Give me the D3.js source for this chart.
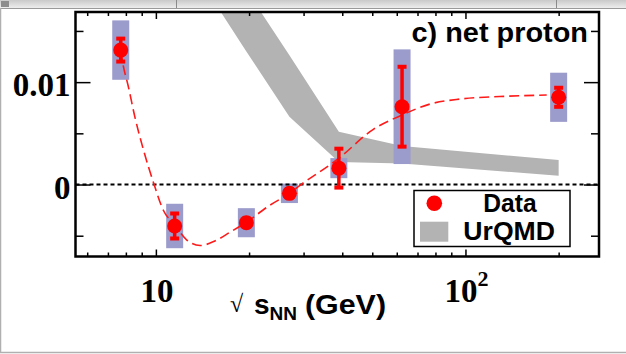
<!DOCTYPE html>
<html>
<head>
<meta charset="utf-8">
<script src="https://cdn.jsdelivr.net/npm/d3@7/dist/d3.min.js"></script>
<style>
  html, body { margin: 0; padding: 0; background: #fff; }
  svg { display: block; }
</style>
</head>
<body>
<svg id="chart" width="626" height="354"></svg>
<script>
// Collision energies (GeV) of the measured points
const energies = [7.7, 11.5, 19.6, 27, 39, 62.4, 200];
// Net-proton observable and its uncertainties
const netProton = [0.01313, -0.00405, -0.00373, -0.00086, 0.0016, 0.0076, 0.00852];
const statErr   = [0.00112, 0.00122, 0.0004, 0.0004, 0.0019, 0.0039, 0.00093];
const sysErr    = [0.0029, 0.00217, 0.00142, 0.00095, 0.00098, 0.0056, 0.0024];

// UrQMD band (lower / upper edge) at the same energies
const urqmdLow  = [0.032, 0.0238, 0.0130, 0.00662, 0.0022, 0.00205, 0.00086];
const urqmdHigh = [0.040, 0.0298, 0.0190, 0.01262, 0.00516, 0.00376, 0.00239];

// Dashed guide curve through the data
const fitEnergy = [7.7, 7.82, 8.14, 8.57, 9.12, 9.87, 10.56, 11.46, 12.59, 13.9, 15.5, 17.4,
                   19.5, 23.4, 27.0, 29.3, 39.1, 50, 62.4, 76.8, 96.3, 129, 183];
const fitValue  = [0.0131, 0.01184, 0.00962, 0.00649, 0.00337, 0, -0.00249, -0.0039, -0.00542,
                   -0.00596, -0.00552, -0.00464, -0.00373, -0.0020, -0.00086, -0.00005, 0.00259,
                   0.00532, 0.00679, 0.00786, 0.00835, 0.00859, 0.00874];

// Axis ticks
const xMajorTicks = [10, 100];
const xMinorTicks = [6, 7, 8, 9, 20, 30, 40, 50, 60, 70, 80, 90, 200];
const yMajorTicks = [0, 0.01];
const yMinorTicks = [-0.005, 0.005, 0.015];

const svg = d3.select("#chart");
const W = 626, H = 354;
const plot = { left: 75.5, right: 599, top: 12, bottom: 256.5 };

const x = d3.scaleLog().domain([5.5, 270]).range([plot.left, plot.right]);
const y = d3.scaleLinear().domain([-0.00703, 0.01685]).range([plot.bottom, plot.top]);

// ---- window chrome around the figure ----
const defs = svg.append("defs");
const grad = defs.append("linearGradient").attr("id", "barGrad")
  .attr("x1", 0).attr("y1", 0).attr("x2", 0).attr("y2", 1);
grad.append("stop").attr("offset", "0%").attr("stop-color", "#c9c9c9");
grad.append("stop").attr("offset", "100%").attr("stop-color", "#ededed");
svg.append("rect").attr("x", 0).attr("y", 0).attr("width", W).attr("height", 8)
  .attr("fill", "url(#barGrad)");
svg.append("line").attr("x1", 0).attr("x2", W).attr("y1", 8.5).attr("y2", 8.5)
  .attr("stroke", "#9a9a9a").attr("stroke-width", 1);
[176.5, 556.5].forEach(px => {
  svg.append("line").attr("x1", px).attr("x2", px).attr("y1", 0).attr("y2", 8)
    .attr("stroke", "#8a8a8a").attr("stroke-width", 1);
});
svg.append("rect").attr("x", 1).attr("y", 1).attr("width", 8).attr("height", 6)
  .attr("fill", "#8c8c8c");
svg.append("line").attr("x1", 0.5).attr("x2", 0.5).attr("y1", 8).attr("y2", 352)
  .attr("stroke", "#b0b0b0").attr("stroke-width", 1.5);
svg.append("line").attr("x1", 0).attr("x2", W).attr("y1", 352.5).attr("y2", 352.5)
  .attr("stroke", "#b0b0b0").attr("stroke-width", 1.5);

// ---- plot contents, clipped to the frame ----
defs.append("clipPath").attr("id", "plotClip").append("rect")
  .attr("x", plot.left).attr("y", plot.top)
  .attr("width", plot.right - plot.left).attr("height", plot.bottom - plot.top);
const g = svg.append("g").attr("clip-path", "url(#plotClip)");

// UrQMD band
const bandData = energies.map((e, i) => ({ e, lo: urqmdLow[i], hi: urqmdHigh[i] }));
g.append("path").datum(bandData)
  .attr("fill", "#b3b3b3")
  .attr("d", d3.area().x(d => x(d.e)).y0(d => y(d.lo)).y1(d => y(d.hi)));

const pts = energies.map((e, i) => ({ e, v: netProton[i], st: statErr[i], sy: sysErr[i] }));

// systematic boxes
const boxW = 17;
g.selectAll("rect.sys").data(pts).join("rect").attr("class", "sys")
  .attr("x", d => x(d.e) - boxW / 2)
  .attr("width", boxW)
  .attr("y", d => y(d.v + d.sy))
  .attr("height", d => y(d.v - d.sy) - y(d.v + d.sy))
  .attr("fill", "#9b9bcc");

// zero reference line
g.append("line")
  .attr("x1", plot.left).attr("x2", plot.right)
  .attr("y1", y(0)).attr("y2", y(0))
  .attr("stroke", "#000").attr("stroke-width", 2).attr("stroke-dasharray", "4,3");

// dashed guide curve
const fitData = fitEnergy.map((e, i) => ({ e, v: fitValue[i] }));
g.append("path").datum(fitData)
  .attr("fill", "none").attr("stroke", "#ff1a1a").attr("stroke-width", 1.6)
  .attr("stroke-dasharray", "10,5")
  .attr("d", d3.line().x(d => x(d.e)).y(d => y(d.v)).curve(d3.curveMonotoneX));

// statistical error bars with caps
g.selectAll("line.stat").data(pts).join("line").attr("class", "stat")
  .attr("x1", d => x(d.e)).attr("x2", d => x(d.e))
  .attr("y1", d => y(d.v + d.st)).attr("y2", d => y(d.v - d.st))
  .attr("stroke", "#ff0000").attr("stroke-width", 3.5);
const capW = 9, capH = 4;
["hi", "lo"].forEach(side => {
  g.selectAll("rect.cap-" + side).data(pts).join("rect").attr("class", "cap-" + side)
    .attr("x", d => x(d.e) - capW / 2)
    .attr("y", d => y(side === "hi" ? d.v + d.st : d.v - d.st) - capH / 2)
    .attr("width", capW).attr("height", capH)
    .attr("fill", "#ff0000");
});

// markers
g.selectAll("circle.pt").data(pts).join("circle").attr("class", "pt")
  .attr("cx", d => x(d.e)).attr("cy", d => y(d.v)).attr("r", 7.5)
  .attr("fill", "#ff0000");

// ---- axes (ticks point inward on all four sides) ----
function styleAxis(sel) {
  sel.select(".domain").remove();
  sel.selectAll(".tick line").attr("stroke", "#000").attr("stroke-width", 1.5);
  sel.selectAll(".tick text").remove();
}
svg.append("g").attr("transform", `translate(0,${plot.bottom})`)
  .call(d3.axisBottom(x).tickValues(xMajorTicks).tickSizeInner(-7).tickSizeOuter(0)).call(styleAxis);
svg.append("g").attr("transform", `translate(0,${plot.bottom})`)
  .call(d3.axisBottom(x).tickValues(xMinorTicks).tickSizeInner(-4).tickSizeOuter(0)).call(styleAxis);
svg.append("g").attr("transform", `translate(0,${plot.top})`)
  .call(d3.axisTop(x).tickValues(xMajorTicks).tickSizeInner(-7).tickSizeOuter(0)).call(styleAxis);
svg.append("g").attr("transform", `translate(0,${plot.top})`)
  .call(d3.axisTop(x).tickValues(xMinorTicks).tickSizeInner(-4).tickSizeOuter(0)).call(styleAxis);
svg.append("g").attr("transform", `translate(${plot.left},0)`)
  .call(d3.axisLeft(y).tickValues(yMajorTicks).tickSizeInner(-15).tickSizeOuter(0)).call(styleAxis);
svg.append("g").attr("transform", `translate(${plot.left},0)`)
  .call(d3.axisLeft(y).tickValues(yMinorTicks).tickSizeInner(-8).tickSizeOuter(0)).call(styleAxis);
svg.append("g").attr("transform", `translate(${plot.right},0)`)
  .call(d3.axisRight(y).tickValues(yMajorTicks).tickSizeInner(-15).tickSizeOuter(0)).call(styleAxis);
svg.append("g").attr("transform", `translate(${plot.right},0)`)
  .call(d3.axisRight(y).tickValues(yMinorTicks).tickSizeInner(-8).tickSizeOuter(0)).call(styleAxis);

// frame
svg.append("rect")
  .attr("x", plot.left).attr("y", plot.top)
  .attr("width", plot.right - plot.left).attr("height", plot.bottom - plot.top)
  .attr("fill", "none").attr("stroke", "#000").attr("stroke-width", 2.5);

// ---- tick labels ----
const serif = "'Liberation Serif', 'Times New Roman', serif";
const sans = "'Liberation Sans', Arial, Helvetica, sans-serif";

svg.selectAll("text.ylab").data(yMajorTicks).join("text").attr("class", "ylab")
  .attr("x", 70.5).attr("y", d => y(d) + 14)
  .attr("text-anchor", "end")
  .attr("font-family", serif).attr("font-weight", "bold").attr("font-size", 33)
  .text(d => d === 0 ? "0" : d3.format(".2f")(d));

svg.append("text").attr("x", x(10) + 1).attr("y", 301.5)
  .attr("text-anchor", "middle")
  .attr("font-family", serif).attr("font-weight", "bold").attr("font-size", 33)
  .text("10");
const t100 = svg.append("text").attr("x", x(100) + 1).attr("y", 301.5)
  .attr("text-anchor", "middle")
  .attr("font-family", serif).attr("font-weight", "bold").attr("font-size", 33);
t100.append("tspan").text("10");
t100.append("tspan").attr("dy", -16).attr("font-size", 22).text("2");

// ---- axis title ----
svg.append("text").attr("x", 230).attr("y", 312)
  .attr("font-family", serif).attr("font-size", 24).text("\u221A");
const xt = svg.append("text").attr("x", 254).attr("y", 314)
  .attr("font-family", sans).attr("font-weight", "bold").attr("font-size", 28);
xt.append("tspan").text("s");
xt.append("tspan").attr("dy", 6).attr("font-size", 19).text("NN");
xt.append("tspan").attr("x", 305).attr("y", 314).attr("textLength", 81)
  .attr("lengthAdjust", "spacingAndGlyphs").text("(GeV)");

// ---- panel title ----
svg.append("text").attr("x", 411.5).attr("y", 41.5)
  .attr("font-family", sans).attr("font-weight", "bold").attr("font-size", 27)
  .attr("textLength", 176.5).attr("lengthAdjust", "spacingAndGlyphs")
  .text("c) net proton");

// ---- legend ----
const leg = svg.append("g");
leg.append("rect").attr("x", 414).attr("y", 190.5).attr("width", 156).attr("height", 56)
  .attr("fill", "#fff").attr("stroke", "#000").attr("stroke-width", 1.5);
leg.append("circle").attr("cx", 434.3).attr("cy", 203.3).attr("r", 7.8).attr("fill", "#ff0000");
leg.append("rect").attr("x", 420).attr("y", 221.7).attr("width", 28.3).attr("height", 20)
  .attr("fill", "#b3b3b3");
leg.append("text").attr("x", 483.3).attr("y", 211.7)
  .attr("font-family", sans).attr("font-weight", "bold").attr("font-size", 25)
  .attr("textLength", 53.3).attr("lengthAdjust", "spacingAndGlyphs").text("Data");
leg.append("text").attr("x", 463.3).attr("y", 240)
  .attr("font-family", sans).attr("font-weight", "bold").attr("font-size", 25)
  .attr("textLength", 91.7).attr("lengthAdjust", "spacingAndGlyphs").text("UrQMD");
</script>
</body>
</html>
